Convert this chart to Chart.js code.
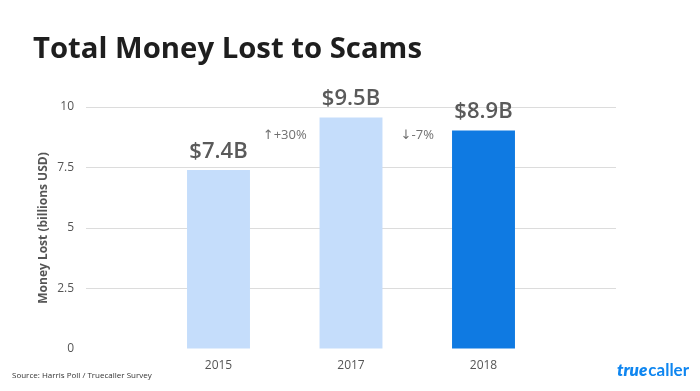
<!DOCTYPE html>
<html>
<head>
<meta charset="utf-8">
<script src="https://cdn.jsdelivr.net/npm/chart.js@4/dist/chart.umd.min.js"></script>
<style>
  html, body { margin: 0; padding: 0; background: #ffffff; }
  #wrap { width: 700px; height: 391px; }
</style>
</head>
<body>
<div id="wrap"><canvas id="c" width="700" height="391"></canvas></div>
<script>
// ---- Data ----
const categories = ['', '2015', '2017', '2018', ''];
const values = [null, 7.4, 9.57, 9.03, null];
const valueLabels = ['', '$7.4B', '$9.5B', '$8.9B', ''];
const changeLabels = ['\u2191+30%', '\u2193-7%'];
const changeLevel = 8.85;
const barColors = ['#c5ddfb', '#c5ddfb', '#c5ddfb', '#0f7ae2', '#c5ddfb'];
const yTicks = [0, 2.5, 5, 7.5, 10];
const chartTitle = 'Total Money Lost to Scams';
const yTitle = 'Money Lost (billions USD)';
const sourceText = 'Source: Harris Poll / Truecaller Survey';

const FONT = '"Open Sans", "DejaVu Sans", sans-serif';

const textPlugin = {
  id: 'extraText',
  afterDatasetsDraw(chart) {
    const ctx = chart.ctx;
    const meta = chart.getDatasetMeta(0);
    const xs = chart.scales.x, ys = chart.scales.y;
    ctx.save();
    // value labels above bars
    ctx.fillStyle = '#5a5a5a';
    ctx.font = '600 22px ' + FONT;
    ctx.textAlign = 'center';
    ctx.textBaseline = 'alphabetic';
    meta.data.forEach((bar, i) => {
      if (values[i] == null) return;
      ctx.fillText(valueLabels[i], bar.x, bar.y - 12);
    });
    // change annotations between bars
    ctx.fillStyle = '#707070';
    ctx.font = '13px ' + FONT;
    ctx.textBaseline = 'middle';
    const yPix = ys.getPixelForValue(changeLevel);
    for (let k = 0; k < changeLabels.length; k++) {
      const x = (xs.getPixelForValue(k + 1) + xs.getPixelForValue(k + 2)) / 2;
      ctx.fillText(changeLabels[k], x, yPix);
    }
    ctx.restore();
  },
  afterDraw(chart) {
    const ctx = chart.ctx;
    ctx.save();
    // title
    ctx.fillStyle = '#1e1e1e';
    ctx.textAlign = 'left';
    ctx.textBaseline = 'alphabetic';
    let size = 26;
    ctx.font = '700 ' + size + 'px ' + FONT;
    const w = ctx.measureText(chartTitle).width;
    size = size * 389 / w;
    ctx.font = '700 ' + size.toFixed(2) + 'px ' + FONT;
    ctx.fillText(chartTitle, 33, 58);
    // source
    ctx.fillStyle = '#333333';
    ctx.font = '8px ' + FONT;
    ctx.fillText(sourceText, 12, 378);
    // logo text
    ctx.fillStyle = '#0f86f0';
    ctx.font = 'italic 800 17px Lato, ' + FONT;
    const t1 = 'true';
    ctx.fillText(t1, 617, 376);
    const w1 = ctx.measureText(t1).width;
    ctx.font = '700 17px Lato, ' + FONT;
    ctx.fillText('caller', 617 + w1 + 1, 376);
    ctx.restore();
  }
};

new Chart(document.getElementById('c'), {
  type: 'bar',
  data: {
    labels: categories,
    datasets: [{
      data: values,
      backgroundColor: barColors,
      borderWidth: 0,
      categoryPercentage: 1,
      barPercentage: 0.475
    }]
  },
  options: {
    responsive: false,
    animation: false,
    layout: { padding: { left: 33, right: 84, top: 107, bottom: 0 } },
    plugins: {
      legend: { display: false },
      tooltip: { enabled: false },
      title: { display: false }
    },
    scales: {
      x: {
        offset: false,
        grid: { display: false, drawTicks: false },
        border: { display: false },
        ticks: {
          color: '#555555',
          font: { family: FONT, size: 12 },
          padding: 9,
          maxRotation: 0,
          autoSkip: false
        },
        afterFit(scale) { scale.height = 42; }
      },
      y: {
        min: 0,
        max: 10,
        afterBuildTicks(scale) { scale.ticks = yTicks.map(v => ({ value: v })); },
        grid: {
          drawTicks: false,
          color: (c) => (c.tick && c.tick.value === 0) ? 'rgba(0,0,0,0)' : '#dcdcdc',
          lineWidth: 1
        },
        border: { display: false },
        ticks: {
          color: '#555555',
          font: { family: FONT, size: 12 },
          padding: 12
        },
        title: {
          display: true,
          text: yTitle,
          color: '#555555',
          font: { family: FONT, size: 12, weight: '700' },
          padding: { top: 3, bottom: 4 }
        },
        afterFit(scale) { scale.width = 53; }
      }
    }
  },
  plugins: [textPlugin]
});
</script>
</body>
</html>
